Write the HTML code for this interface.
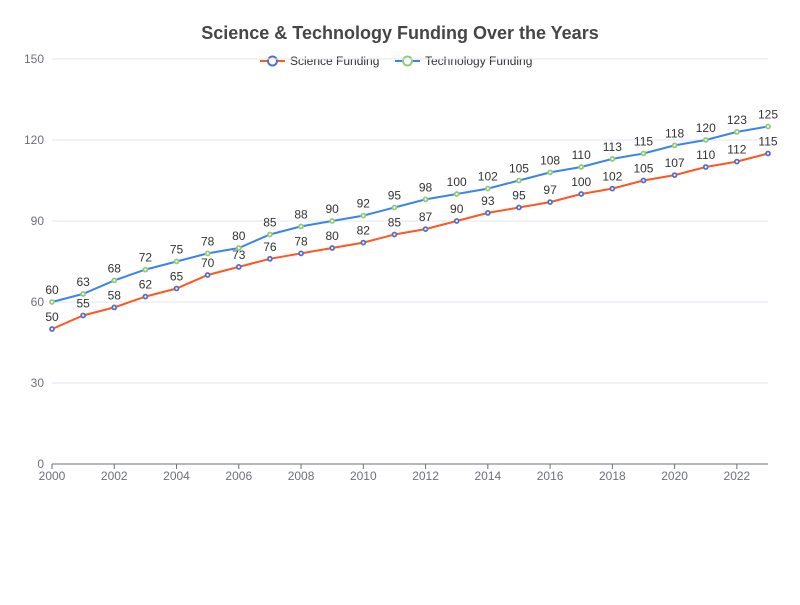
<!DOCTYPE html>
<html><head><meta charset="utf-8"><style>
body{margin:0;background:#fff;width:800px;height:600px;overflow:hidden}
svg{font-family:"Liberation Sans",sans-serif}
</style></head><body>
<svg id="chart" width="800" height="600">
<text x="400" y="39" text-anchor="middle" font-size="18" font-weight="bold" fill="#464646">Science &amp; Technology Funding Over the Years</text>
<g>
<g>
<line x1="260" y1="61" x2="285" y2="61" stroke="#ff5722" stroke-width="2"/>
<circle cx="272.5" cy="61" r="4.5" fill="#fff" stroke="#5470c6" stroke-width="2"/>
<text x="290" y="65" font-size="12" fill="#333">Science Funding</text></g>
<g>
<line x1="395" y1="61" x2="420" y2="61" stroke="#3a84f0" stroke-width="2"/>
<circle cx="407.5" cy="61" r="4.5" fill="#fff" stroke="#91cc75" stroke-width="2"/>
<text x="425" y="65" font-size="12" fill="#333">Technology Funding</text></g>
</g>
<g id="grid"></g><g id="axes"></g><g id="series"></g>
</svg>
<script>
const years=[2000,2001,2002,2003,2004,2005,2006,2007,2008,2009,2010,2011,2012,2013,2014,2015,2016,2017,2018,2019,2020,2021,2022,2023];
const science=[50,55,58,62,65,70,73,76,78,80,82,85,87,90,93,95,97,100,102,105,107,110,112,115];
const technology=[60,63,68,72,75,78,80,85,88,90,92,95,98,100,102,105,108,110,113,115,118,120,123,125];
const yTicks=[0,30,60,90,120,150];
const NS="http://www.w3.org/2000/svg";
const L=52,R=768,T=59,B=464;
const x=i=>L+(R-L)*i/(years.length-1);
const y=v=>B-(B-T)*v/150;
function mk(tag,attrs,parent){const e=document.createElementNS(NS,tag);for(const k in attrs)e.setAttribute(k,attrs[k]);parent.appendChild(e);return e;}
const grid=document.getElementById('grid'),axes=document.getElementById('axes'),ser=document.getElementById('series');
yTicks.forEach(t=>{
 if(t>0){const g=mk('line',{x1:L,x2:R,y1:y(t),y2:y(t),stroke:'#e0e6f1'},grid);
 
 }
 const tx=mk('text',{x:L-8,y:y(t)+4,'text-anchor':'end','font-size':12,fill:'#6e7079'},axes);tx.textContent=t;
 
 
});
const ax=mk('line',{x1:L,x2:R,y1:B,y2:B,stroke:'#6e7079'},axes);


years.forEach((yr,i)=>{
 if(i%2===0){mk('line',{x1:x(i),x2:x(i),y1:B,y2:B+5,stroke:'#6e7079'},axes);
 const tx=mk('text',{x:x(i),y:B+16,'text-anchor':'middle','font-size':12,fill:'#6e7079'},axes);tx.textContent=yr;
 
 }
});
function series(data,lineColor,markColor,name){
 const g=mk('g',{},ser);
 
 
 const p=mk('polyline',{points:data.map((v,i)=>x(i)+','+y(v)).join(' '),fill:'none',stroke:lineColor,'stroke-width':2},g);
 
 
 data.forEach((v,i)=>{
  const c=mk('circle',{cx:x(i),cy:y(v),r:2,fill:'#fff',stroke:markColor,'stroke-width':1.8},g);
  
  
  const t=mk('text',{x:x(i),y:y(v)-8,'text-anchor':'middle','font-size':12,fill:'#333'},g);t.textContent=v;
  
  
 });
}
series(science,'#ff5722','#5470c6','science');
series(technology,'#3a84f0','#91cc75','technology');
</script>
</body></html>
